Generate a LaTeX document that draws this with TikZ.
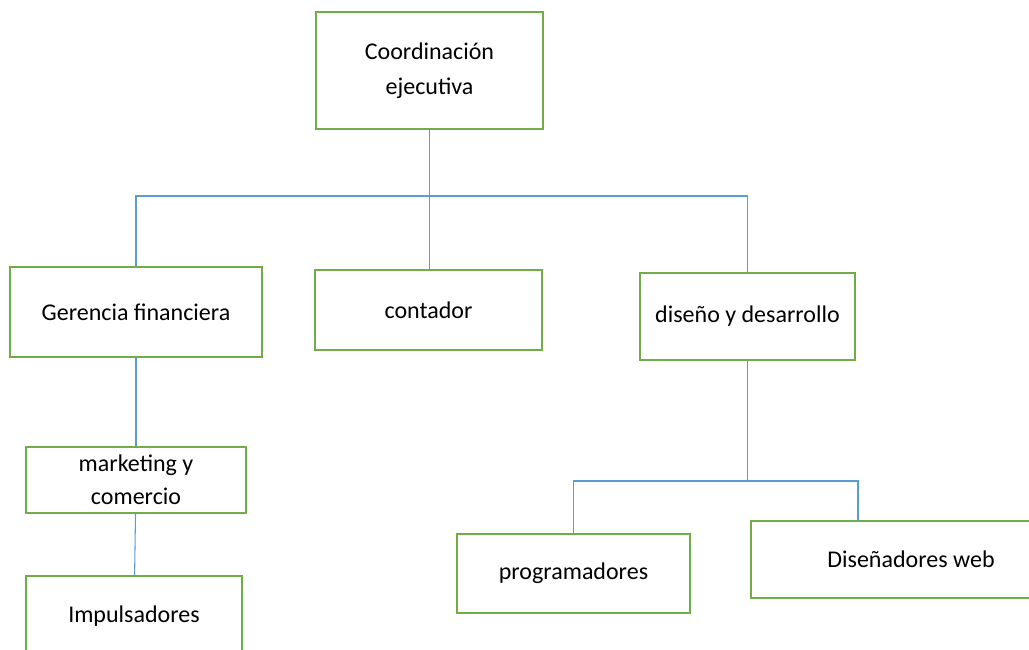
\documentclass[tikz,border=0pt]{standalone}
\usepackage{fontspec}
\setmainfont{Carlito}
\usetikzlibrary{positioning}
\definecolor{boxgreen}{HTML}{70AD47}
\definecolor{linkblue}{HTML}{5B9BD5}
\tikzset{
  unit/.style = {rectangle, draw=boxgreen, line width=1.4pt, align=center,
                 inner sep=0pt, text=black, font=\fontsize{18}{26}\selectfont},
  link/.style = {draw=linkblue, line width=0.8pt},
}

\begin{document}
\begin{tikzpicture}[x=0.75pt, y=-0.75pt]
  \useasboundingbox (0,0) rectangle (1029,650);
  \clip (0,0) rectangle (1029,650);

  \node[unit, minimum width=170.25pt, minimum height=87.75pt] (coord) at (429.5,70.5) {Coordinación\\ejecutiva};
  \node[unit, minimum width=189pt, minimum height=67.5pt] (ger) at (136,312) {Gerencia financiera};
  \node[unit, minimum width=170.25pt, minimum height=60pt] (cont) at (428.5,310) {contador};
  \node[unit, minimum width=161.25pt, minimum height=65.25pt] (dis) at (747.5,316.5) {diseño y desarrollo};
  \node[unit, minimum width=165pt, minimum height=49.5pt, font=\fontsize{18}{25}\selectfont] (mkt) at (136,480) {marketing y\\comercio};
  \node[unit, minimum width=162pt, minimum height=60pt] (imp) at (134,616) {Impulsadores};
  \node[unit, minimum width=174.75pt, minimum height=59.25pt] (prog) at (573.5,573.5) {programadores};
  \node[unit, minimum width=240pt, minimum height=57.75pt] (web) at (911,559.5) {Diseñadores web};

  % branch points of the chart
  \coordinate (bus) at (430,196);
  \coordinate (split) at (747.5,481);
  \coordinate (webtop) at (858,521);

  \draw[link] (coord.south) -- (coord.south |- cont.north);
  \draw[link] (ger.north) |- (bus) -| (dis.north);
  \draw[link] (ger) -- (mkt);
  \draw[link] (mkt) -- (imp);
  \draw[link] (dis.south) -- (split);
  \draw[link] (prog.north) |- (split) -| (webtop);
\end{tikzpicture}
\end{document}
